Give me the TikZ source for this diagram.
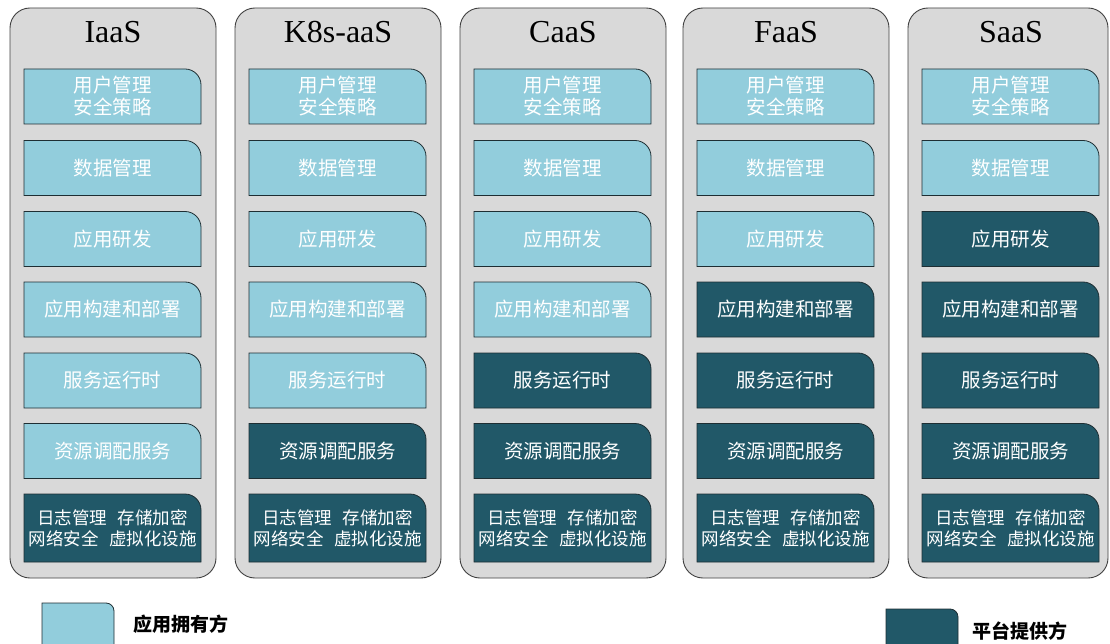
\documentclass[tikz,border=0pt]{standalone}
\usepackage{fontspec}
\setmainfont{Liberation Serif}
\newfontfamily\cjk{Noto Sans CJK SC}
\definecolor{lightc}{HTML}{92CDDC}
\definecolor{darkc}{HTML}{215868}
\definecolor{colgray}{HTML}{D9D9D9}
\definecolor{colline}{HTML}{404040}
\definecolor{boxline}{HTML}{1E2E33}
\tikzset{
  column/.style={draw=colline, line width=0.9pt, fill=colgray, rounded corners=20pt},
  lightcell/.style={draw=boxline, line width=0.8pt, fill=lightc},
  darkcell/.style={draw=boxline, line width=0.8pt, fill=darkc},
  celltext/.style={text=white, align=center, font=\cjk\fontsize{19.5}{22}\selectfont, inner sep=0pt},
  basetext/.style={text=white, align=center, font=\cjk\fontsize{17.5}{21}\selectfont, inner sep=0pt},
  titletext/.style={anchor=base, font=\fontsize{32}{36}\selectfont, inner sep=0pt},
  legendtext/.style={anchor=west, font=\cjk\bfseries\fontsize{19}{22}\selectfont, inner sep=0pt}
}
% #1 name, #2 x (left), #3 y (top, px), #4 height, #5 width
\newcommand\cellshape[5]{%
  \draw[curcell] (#2,-#3-#4) -- (#2,-#3) -- (#2+#5-16,-#3)
     arc[start angle=90,end angle=0,radius=16] -- (#2+#5,-#3-#4) -- cycle;
  \coordinate (#1) at (#2+#5/2,-#3-#4/2);}
\begin{document}
\begin{tikzpicture}[x=1pt,y=1pt]
\useasboundingbox (0,0) rectangle (1110,-644);
\foreach \cx/\cw/\ttl/\nl [count=\ci] in {10/206/IaaS/6, 235/206/K8s-aaS/5, 460/206/CaaS/4, 683/206/FaaS/3, 908/200/SaaS/2}{
  \draw[column] (\cx,-8) rectangle (\cx+\cw,-578);
  \node[titletext] (title-\ci) at (\cx+103,-43) {\ttl};
  \foreach \ry/\txt [count=\ri] in {69/{用户管理\\安全策略}, 140.5/{数据管理}, 211.5/{应用研发}, 282/{应用构建和部署}, 353/{服务运行时}, 423.5/{资源调配服务}}{
    \ifnum\ri>\nl \tikzset{curcell/.style=darkcell}\else\tikzset{curcell/.style=lightcell}\fi
    \cellshape{cc-\ci-\ri}{\cx+14}{\ry}{55}{177}
    \node[celltext] (cell-\ci-\ri) at (cc-\ci-\ri) {\txt};
  }
  \tikzset{curcell/.style=darkcell}
  \cellshape{cc-\ci-7}{\cx+14}{494}{68}{177}
  \node[basetext] (cell-\ci-7) at (cc-\ci-7) {日志管理\hspace{0.6em}存储加密\\网络安全\hspace{0.6em}虚拟化设施};
}
% legend
\tikzset{curcell/.style={draw=boxline, line width=0.8pt, fill=lightc}}
\draw[curcell] (42,-650) -- (42,-603) -- (106,-603) arc[start angle=90,end angle=0,radius=8] -- (114,-650) -- cycle;
\coordinate (leg1) at (78,-625);
\node[legendtext] (legtext1) at (133,-624) {应用拥有方};
\draw[darkcell] (886,-656) -- (886,-609) -- (950,-609) arc[start angle=90,end angle=0,radius=8] -- (958,-656) -- cycle;
\coordinate (leg2) at (922,-630);
\node[legendtext] (legtext2) at (972,-631) {平台提供方};
\end{tikzpicture}
\end{document}
